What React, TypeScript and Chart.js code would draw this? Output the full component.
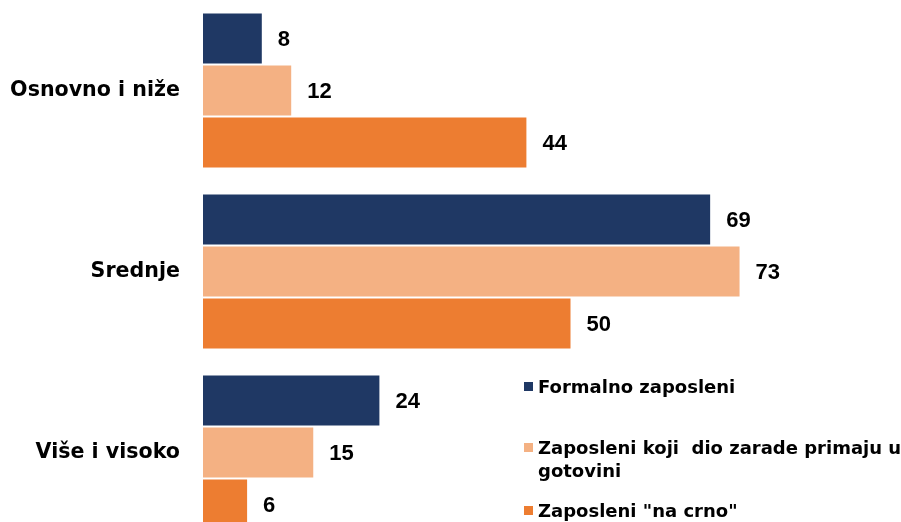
import React, { useEffect, useRef } from "react";
import { Chart, registerables } from "chart.js";

Chart.register(...registerables);

const categories = ["Osnovno i niže", "Srednje", "Više i visoko"];
const seriesNames = [
  "Formalno zaposleni",
  "Zaposleni koji  dio zarade primaju u gotovini",
  'Zaposleni "na crno"',
];
const formalno = [8, 69, 24];
const gotovina = [12, 73, 15];
const naCrno = [44, 50, 6];
const seriesColors = ["#1F3864", "#F4B183", "#ED7D31"];

const valueLabels = {
  id: "valueLabels",
  afterDatasetsDraw(chart: any) {
    const ctx = chart.ctx;
    ctx.save();
    ctx.font = "bold 22px 'Liberation Sans', Arial, sans-serif";
    ctx.fillStyle = "#000000";
    ctx.textAlign = "left";
    ctx.textBaseline = "middle";
    chart.data.datasets.forEach((ds: any, i: number) => {
      const meta = chart.getDatasetMeta(i);
      meta.data.forEach((el: any, j: number) => {
        ctx.fillText(String(ds.data[j]), el.x + 16, el.y + 1);
      });
    });
    ctx.restore();
  },
};

const customLegend = {
  id: "customLegend",
  afterDraw(chart: any) {
    const ctx = chart.ctx;
    ctx.save();
    ctx.font = "bold 18px 'DejaVu Sans', sans-serif";
    ctx.textAlign = "left";
    ctx.textBaseline = "alphabetic";
    const baselines = [393, 454, 517];
    const textX = 538;
    const maxW = 372;
    chart.data.datasets.forEach((ds: any, i: number) => {
      const base = baselines[i];
      ctx.fillStyle = ds.backgroundColor;
      ctx.fillRect(524, base - 11, 9, 9);
      ctx.fillStyle = "#000000";
      const words = String(ds.label).split(" ");
      const lines: string[] = [];
      let cur = "";
      words.forEach((w, k) => {
        const test = k === 0 ? w : cur + " " + w;
        if (ctx.measureText(test).width > maxW && cur.trim() !== "") {
          lines.push(cur);
          cur = w;
        } else {
          cur = test;
        }
      });
      lines.push(cur);
      lines.forEach((ln, k) => ctx.fillText(ln, textX, base + k * 23));
    });
    ctx.restore();
  },
};

export default function App() {
  const ref = useRef<HTMLCanvasElement | null>(null);
  useEffect(() => {
    if (!ref.current) return;
    const data = [formalno, gotovina, naCrno];
    const chart = new Chart(ref.current, {
      type: "bar",
      data: {
        labels: categories,
        datasets: data.map((d, i) => ({
          label: seriesNames[i],
          data: d,
          backgroundColor: seriesColors[i],
          borderWidth: 0,
          barPercentage: 0.96,
          categoryPercentage: 0.862,
        })),
      },
      options: {
        indexAxis: "y",
        responsive: false,
        animation: false,
        layout: { padding: { left: 0, right: 110, top: 0, bottom: 0 } },
        plugins: {
          legend: { display: false },
          tooltip: { enabled: false },
          title: { display: false },
        },
        scales: {
          x: {
            display: false,
            min: 0,
            max: 80,
          },
          y: {
            grid: { display: false, drawTicks: false },
            border: { display: false },
            ticks: {
              padding: 23,
              color: "#000000",
              font: { family: "'DejaVu Sans', sans-serif", size: 20.6, weight: "bold" },
            },
            afterFit(scale: any) {
              scale.width = 203;
              scale.paddingTop = 0;
              scale.paddingBottom = 0;
            },
          },
        },
      },
      plugins: [valueLabels, customLegend],
    } as any);
    return () => chart.destroy();
  }, []);
  return (
    <div style={{ position: "fixed", left: 0, top: 0, width: 901, height: 543, background: "#ffffff" }}>
      <canvas ref={ref} width={901} height={543} style={{ display: "block" }} />
    </div>
  );
}
